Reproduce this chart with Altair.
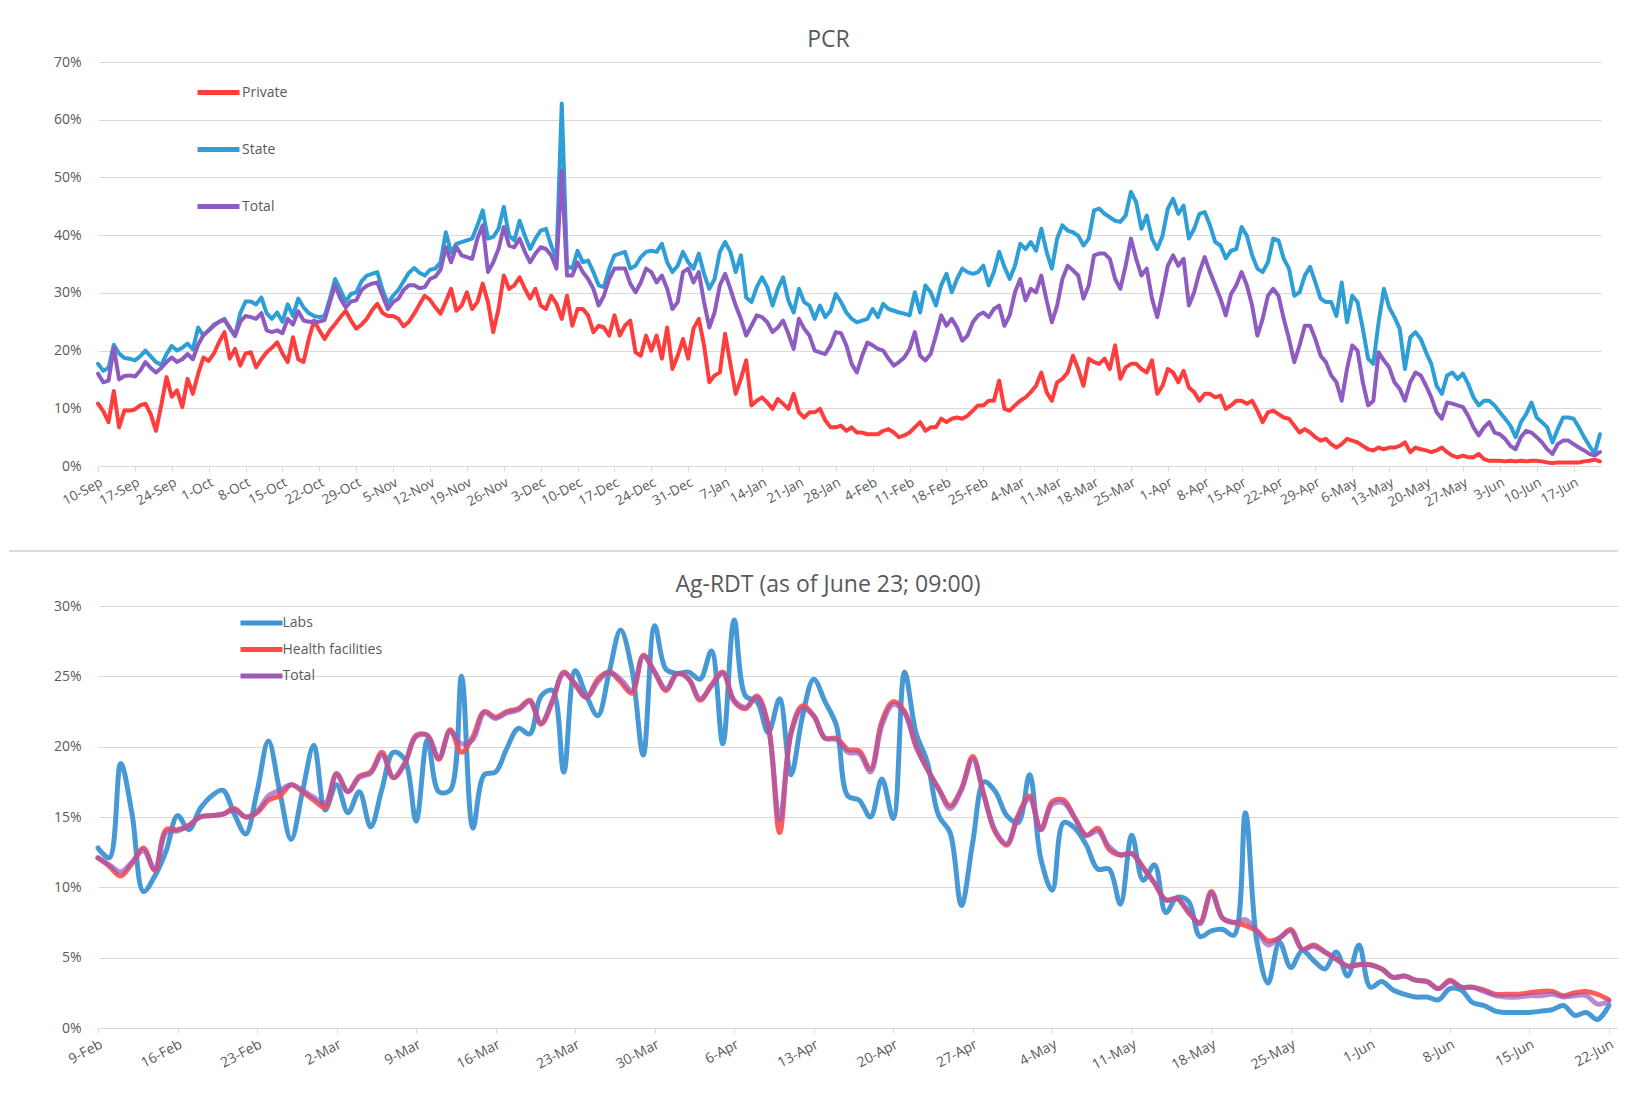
import altair as alt
import pandas as pd

# ---------------- PCR (daily, from 10-Sep) ----------------
pcr_private = [
    10.8, 9.5, 7.6, 13, 6.7, 9.6, 9.6, 9.8, 10.5, 10.8,
    9, 6.1, 10.5, 15.4, 12, 13.1, 10.2, 15.1, 12.5, 16,
    18.8, 18.2, 19.5, 21.5, 23.2, 18.6, 20.3, 17.4, 19.5, 19.7,
    17.1, 18.5, 19.7, 20.5, 21.4, 19.5, 18, 22.3, 18.5, 18,
    22, 25.2, 23.5, 22, 23.5, 24.6, 25.8, 26.9, 25.2, 23.8,
    24.5, 25.5, 27, 28.1, 26.5, 26, 26, 25.5, 24.2, 25,
    26.4, 28, 29.5, 28.8, 27.5, 26.4, 28.5, 30.7, 26.9, 27.8,
    30.1, 27.2, 28.4, 31.6, 28.4, 23.2, 27.2, 33.0, 30.7, 31.3,
    32.7, 30.7, 29.0, 30.7, 27.8, 27.2, 29.5, 28.1, 25.5, 29.5,
    24.3, 27.2, 27.2, 26.1, 23.2, 24.3, 24.0, 22.6, 26.1, 22.6,
    24.3, 25.2, 19.7, 19.1, 22.6, 20.0, 22.6, 18.6, 24.0, 16.8,
    19.1, 22.0, 18.6, 23.8, 25.5, 20.9, 14.5, 15.7, 16.2, 22.9,
    17.7, 12.5, 15.1, 18.3, 10.5, 11.3, 11.9, 11.0, 9.9, 11.6,
    10.8, 9.9, 12.5, 9.3, 8.4, 9.3, 9.3, 9.9, 7.9, 6.7,
    6.7, 7.0, 6.1, 6.7, 5.8, 5.8, 5.5, 5.5, 5.5, 6.1,
    6.4, 5.8, 5.0, 5.3, 5.8, 6.7, 7.6, 6.1, 6.7, 6.7,
    8.2, 7.6, 8.2, 8.4, 8.2, 8.7, 9.6, 10.5, 10.5, 11.3,
    11.3, 14.8, 9.9, 9.6, 10.5, 11.3, 11.9, 12.8, 13.9, 16.2,
    12.8, 11.3, 14.5, 15.1, 16.2, 19.1, 16.8, 13.9, 18.6, 18.0,
    17.7, 18.6, 16.8, 20.9, 15.1, 17.1, 17.7, 17.7, 16.8, 16.2,
    18.3, 12.5, 13.9, 16.8, 16.2, 14.5, 16.5, 13.6, 12.8, 11.3,
    12.5, 12.5, 11.9, 12.2, 9.9, 10.5, 11.3, 11.3, 10.8, 11.3,
    9.6, 7.6, 9.3, 9.6, 9.0, 8.4, 8.2, 7.0, 5.8, 6.4,
    5.8, 5.0, 4.4, 4.7, 3.8, 3.2, 3.8, 4.7, 4.4, 4.1,
    3.5, 2.9, 2.7, 3.2, 2.9, 3.2, 3.2, 3.5, 4.1, 2.4,
    3.2, 2.9, 2.7, 2.4, 2.7, 3.2, 2.4, 1.8, 1.5, 1.8,
    1.5, 1.5, 2.1, 1.2, 0.9, 0.9, 0.9, 0.8, 0.9, 0.8,
    0.9, 0.8, 0.9, 0.9, 0.8, 0.6, 0.5, 0.6, 0.6, 0.6,
    0.6, 0.6, 0.8, 0.9, 1.1, 0.8,
]

pcr_state = [
    17.7, 16.5, 17, 21, 19.5, 18.7, 18.6, 18.3, 19, 20,
    19, 18, 17.5, 19.4, 20.8, 20, 20.5, 21.2, 20.2, 24,
    22.6, 23.5, 24.5, 25, 25.5, 23.8, 22.6, 26.5, 28.5, 28.5,
    28, 29.2, 26.5, 25.5, 26.6, 25, 28, 26, 29, 27.5,
    26.5, 26, 25.8, 26, 29, 32.4, 30.5, 28.5, 29.8, 30.1,
    32, 33, 33.3, 33.6, 30.5, 28.2, 29.5, 30.5, 32, 33.5,
    34.3, 33.5, 33, 34, 34.2, 35.3, 40.5, 37, 38.5, 38.8,
    39.1, 39.4, 41.7, 44.3, 39.4, 39.7, 41.1, 44.9, 39.9, 39.1,
    42.5, 39.9, 37.6, 39.4, 40.8, 41.1, 38.2, 35.9, 62.8, 34.7,
    34.2, 37.3, 35.3, 35.6, 33.6, 31.3, 31.0, 34.2, 36.5, 36.8,
    37.1, 34.2, 34.7, 36.2, 37.1, 37.3, 37.1, 38.5, 35.3, 33.6,
    34.7, 37.1, 35.3, 34.2, 36.8, 33.3, 30.7, 32.4, 37.1, 38.8,
    37.1, 33.6, 36.5, 29.2, 28.4, 31.0, 32.7, 31.0, 27.8, 30.7,
    32.7, 28.7, 26.6, 30.7, 28.4, 27.8, 25.5, 27.8, 25.8, 26.9,
    29.8, 28.4, 26.6, 25.5, 24.9, 25.2, 25.5, 27.2, 25.8, 28.1,
    27.2, 26.9, 26.6, 26.4, 26.1, 30.1, 26.6, 31.3, 30.1, 27.8,
    31.3, 33.3, 30.1, 32.4, 34.2, 33.6, 33.3, 33.6, 34.7, 31.3,
    33.6, 37.1, 34.5, 32.4, 34.7, 38.5, 37.6, 38.8, 37.3, 41.1,
    37.1, 34.2, 39.4, 41.7, 40.8, 40.5, 39.9, 38.2, 39.4, 44.3,
    44.6, 43.7, 43.1, 42.5, 42.3, 43.4, 47.5, 45.7, 41.1, 43.4,
    39.4, 37.6, 39.9, 44.6, 46.3, 43.7, 45.1, 39.4, 41.1, 43.7,
    44.0, 41.7, 38.8, 38.2, 36.0, 37.3, 37.6, 41.4, 39.9, 36.5,
    34.2, 33.6, 35.3, 39.4, 39.1, 35.9, 34.2, 29.5, 30.1, 33.0,
    34.5, 31.8, 29.0, 28.4, 28.4, 26.0, 31.8, 24.9, 29.5, 28.4,
    23.8, 18.6, 17.7, 24.9, 30.7, 27.5, 25.8, 23.8, 16.8, 22.3,
    23.2, 22.0, 19.7, 17.7, 13.9, 12.5, 15.7, 16.2, 15.1, 16.0,
    14.2, 11.9, 10.5, 11.3, 11.3, 10.5, 9.3, 8.2, 7.0, 5.0,
    7.6, 9.0, 11.0, 8.4, 7.6, 6.7, 4.1, 6.4, 8.4, 8.4,
    8.2, 6.7, 5.0, 3.5, 2.1, 5.5,
]

pcr_total = [
    16, 14.5, 14.8, 20.5, 15, 15.6, 15.7, 15.5, 16.5, 18,
    17, 16.2, 17, 18, 18.8, 18, 18.5, 19.4, 18.5, 21,
    22.7, 23.5, 24.3, 25, 25.3, 24, 22.5, 25, 26, 25.8,
    25.5, 26.5, 23.5, 23.2, 23.5, 23, 25.5, 24.5, 26.8, 25.2,
    25, 25, 25, 25.3, 28.4, 31.3, 29, 27.5, 28.5, 28.7,
    30.5, 31.2, 31.6, 31.8, 29.5, 27.2, 28.4, 29, 30.5, 31.3,
    31.3, 30.8, 31, 32.4, 32.8, 34, 37.9, 35.3, 38, 36.5,
    36.2, 35.9, 39.4, 41.7, 33.6, 35.3, 37.6, 41.4, 38.2, 37.9,
    39.4, 37.1, 35.3, 36.8, 37.9, 37.6, 36.5, 34.2, 51.2, 33.0,
    33.0, 35.3, 33.6, 32.4, 30.7, 27.8, 29.5, 32.4, 34.2, 34.2,
    34.2, 31.6, 30.1, 31.8, 34.2, 33.6, 31.8, 33.0, 30.7, 27.2,
    28.4, 33.6, 34.2, 31.8, 33.6, 28.4, 24.0, 26.6, 31.3, 33.3,
    30.7, 27.8, 25.5, 22.6, 24.3, 26.1, 25.8, 24.9, 23.2, 24.0,
    25.2, 22.9, 20.3, 25.5, 23.8, 22.6, 20.0, 19.7, 19.4, 20.9,
    23.2, 23.0, 20.9, 17.7, 16.2, 19.1, 21.4, 20.9, 20.3, 20.0,
    18.6, 17.4, 18.0, 18.8, 20.3, 23.2, 19.1, 18.3, 19.4, 22.6,
    26.1, 24.3, 25.5, 24.0, 21.7, 22.6, 24.9, 26.1, 26.6, 25.8,
    27.2, 27.8, 24.3, 26.1, 30.1, 32.4, 28.7, 30.7, 30.1, 33.0,
    28.7, 24.9, 27.8, 32.4, 34.7, 33.9, 33.0, 29.0, 31.3, 36.5,
    36.8, 36.8, 35.9, 32.4, 30.7, 34.7, 39.4, 35.9, 33.0, 34.2,
    29.0, 25.8, 30.1, 34.7, 36.5, 34.7, 35.9, 27.8, 30.1, 33.6,
    36.2, 33.6, 31.3, 29.0, 26.1, 29.8, 31.3, 33.6, 31.3, 27.8,
    22.6, 25.5, 29.5, 30.7, 29.5, 25.5, 22.0, 18.0, 20.9, 24.3,
    24.3, 22.0, 19.1, 18.0, 15.7, 14.5, 11.3, 16.8, 20.9, 20.0,
    14.5, 10.5, 11.3, 19.7, 18.3, 17.1, 14.5, 13.4, 11.3, 14.5,
    16.2, 15.7, 13.9, 11.9, 9.3, 8.2, 11.0, 10.8, 10.5, 10.2,
    8.7, 6.7, 5.3, 6.7, 7.6, 5.8, 5.5, 4.7, 3.5, 2.9,
    5.0, 6.1, 5.8, 5.0, 4.1, 2.9, 2.1, 3.8, 4.4, 4.4,
    3.8, 3.2, 2.7, 2.1, 1.8, 2.4,
]

pcr_tick_labels = [
    "10-Sep", "17-Sep", "24-Sep", "1-Oct", "8-Oct", "15-Oct", "22-Oct", "29-Oct",
    "5-Nov", "12-Nov", "19-Nov", "26-Nov", "3-Dec", "10-Dec", "17-Dec", "24-Dec",
    "31-Dec", "7-Jan", "14-Jan", "21-Jan", "28-Jan", "4-Feb", "11-Feb", "18-Feb",
    "25-Feb", "4-Mar", "11-Mar", "18-Mar", "25-Mar", "1-Apr", "8-Apr", "15-Apr",
    "22-Apr", "29-Apr", "6-May", "13-May", "20-May", "27-May", "3-Jun", "10-Jun",
    "17-Jun",
]
pcr_series = ["Private", "State", "Total"]
pcr_colors = ["#FF3D3D", "#2E9FD6", "#8E5BC0"]

# ---------------- Ag-RDT (daily, from 9-Feb) ----------------
ag_labs = [
    12.8, 12.1, 18.8, 15.2, 9.7, 10.8, 12.6, 15.1, 14.1, 15.6,
    16.5, 16.9, 15.2, 13.8, 16.8, 20.4, 16.8, 13.4, 16.8, 20.1,
    15.5, 17.3, 15.3, 16.8, 14.3, 17.0, 19.6, 19.1, 14.7, 20.5,
    16.8, 16.9, 25.0, 14.2, 18.0, 18.2, 19.9, 21.3, 20.9, 23.6,
    24.0, 18.2, 25.4, 23.6, 22.2, 25.3, 28.3, 25.5, 19.4, 28.6,
    25.5, 25.2, 25.3, 24.8, 26.8, 20.2, 29.0, 23.6, 23.2, 21.0,
    23.4, 18.0, 22.1, 24.8, 23.2, 21.5, 16.5, 16.2, 15.0, 17.7,
    14.9, 25.3, 21.0, 18.9, 15.1, 13.9, 8.7, 13.2, 17.5, 16.8,
    15.1, 14.6, 18.0, 12.0, 9.8, 14.6, 14.2, 13.0, 11.3, 11.3,
    8.8, 13.7, 10.5, 11.6, 8.2, 9.3, 9.0, 6.5, 6.9, 7.0,
    6.6, 15.3, 6.2, 3.2, 6.1, 4.3, 5.5, 4.8, 4.2, 5.4,
    3.7, 5.9, 2.9, 3.3, 2.7, 2.4, 2.2, 2.2, 2.0, 2.8,
    2.7, 1.8, 1.6, 1.2, 1.1, 1.1, 1.1, 1.2, 1.3, 1.6,
    0.9, 1.1, 0.6, 1.6,
]

ag_health = [
    12.1, 11.5, 10.8, 11.7, 12.8, 11.2, 14.1, 14.1, 14.4, 15.0,
    15.1, 15.2, 15.6, 15.0, 15.3, 16.2, 16.5, 17.3, 16.8, 16.2,
    15.7, 18.1, 16.8, 17.9, 18.2, 19.6, 17.8, 18.8, 20.8, 20.8,
    19.1, 21.2, 19.6, 20.7, 22.5, 22.1, 22.5, 22.7, 23.3, 21.6,
    23.2, 25.3, 24.4, 23.5, 24.8, 25.3, 24.6, 23.8, 26.5, 25.3,
    24.0, 25.2, 24.8, 23.3, 24.4, 25.3, 23.2, 22.7, 23.6, 21.5,
    13.9, 21.0, 22.9, 22.2, 20.6, 20.6, 19.8, 19.7, 18.4, 21.8,
    23.2, 22.5, 20.1, 18.4, 17.0, 15.8, 17.0, 19.3, 16.5, 13.9,
    13.0, 15.1, 16.5, 14.1, 16.1, 16.2, 14.9, 13.7, 14.2, 12.7,
    12.3, 12.4, 11.4, 10.3, 9.1, 9.2, 8.2, 7.5, 9.7, 7.8,
    7.5, 7.3, 6.9, 6.2, 6.4, 7.0, 5.6, 5.9, 5.4, 4.9,
    4.4, 4.5, 4.5, 4.2, 3.6, 3.7, 3.4, 3.3, 2.8, 3.4,
    2.9, 2.9, 2.7, 2.4, 2.4, 2.4, 2.5, 2.6, 2.6, 2.3,
    2.5, 2.6, 2.4, 2.0,
]

ag_total = [
    12.1, 11.6, 11.1, 11.8, 12.6, 11.3, 13.9, 14.0, 14.4, 15.0,
    15.1, 15.2, 15.5, 15.0, 15.4, 16.5, 16.9, 17.3, 16.9, 16.4,
    16.0, 18.0, 16.8, 17.8, 18.1, 19.4, 17.8, 18.8, 20.7, 20.8,
    19.2, 21.1, 20.2, 20.5, 22.4, 22.0, 22.4, 22.6, 23.2, 21.7,
    23.3, 25.2, 24.5, 23.5, 24.6, 25.3, 24.8, 24.0, 26.4, 25.3,
    24.1, 25.2, 24.8, 23.4, 24.3, 25.2, 23.3, 22.8, 23.5, 21.4,
    14.8, 20.9, 22.7, 22.2, 20.6, 20.5, 19.6, 19.5, 18.2, 21.5,
    23.0, 22.4, 20.0, 18.4, 17.0, 15.6, 16.9, 19.1, 16.5, 14.0,
    13.1, 15.1, 16.3, 14.1, 15.9, 16.0, 14.9, 13.7, 14.0, 12.9,
    12.3, 12.4, 11.4, 10.3, 9.1, 9.2, 8.3, 7.4, 9.6, 7.8,
    7.5, 7.7, 6.9, 5.9, 6.4, 6.9, 5.6, 5.8, 5.4, 4.9,
    4.4, 4.5, 4.5, 4.2, 3.6, 3.7, 3.4, 3.3, 2.8, 3.3,
    2.9, 2.9, 2.6, 2.3, 2.2, 2.2, 2.3, 2.3, 2.4, 2.2,
    2.3, 2.3, 1.7, 1.9,
]

ag_tick_labels = [
    "9-Feb", "16-Feb", "23-Feb", "2-Mar", "9-Mar", "16-Mar", "23-Mar", "30-Mar",
    "6-Apr", "13-Apr", "20-Apr", "27-Apr", "4-May", "11-May", "18-May", "25-May",
    "1-Jun", "8-Jun", "15-Jun", "22-Jun",
]
ag_series = ["Labs", "Health facilities", "Total"]
ag_colors = ["#3D93D3", "#FF4A4A", "#9B59B6"]

# ---------------- helpers ----------------
FONT = "Open Sans"
GRAY = "#595959"
GRID = "#D9D9D9"


def to_long(names, arrays):
    rows = []
    for name, arr in zip(names, arrays):
        for i, v in enumerate(arr):
            rows.append({"day": i, "value": v, "series": name})
    return pd.DataFrame(rows)


def label_expr(labels):
    arr = ",".join("'" + s + "'" for s in labels)
    return "[" + arr + "][round(datum.value / 7)]"


# ---------------- PCR chart ----------------
pcr_df = to_long(pcr_series, [pcr_private, pcr_state, pcr_total])
pcr_w, pcr_h = 1503, 404
ag_w, ag_h = 1520, 422

pcr_x = alt.X(
    "day:Q",
    scale=alt.Scale(domain=[0, 285.2], nice=False, zero=False),
    axis=alt.Axis(
        values=[7 * i for i in range(len(pcr_tick_labels))],
        labelExpr=label_expr(pcr_tick_labels),
        labelAngle=-28, labelAlign="right", labelBaseline="top",
        labelFontSize=13.5, labelColor=GRAY, labelFont=FONT, labelPadding=4,
        grid=False, domain=False, ticks=True, tickColor=GRID, tickSize=5,
        labelOverlap=False,
    ),
    title=None,
)
pcr_y = alt.Y(
    "value:Q",
    scale=alt.Scale(domain=[0, 70], nice=False),
    axis=alt.Axis(
        values=[0, 10, 20, 30, 40, 50, 60, 70],
        labelExpr="datum.value + '%'",
        labelFontSize=14, labelColor=GRAY, labelFont=FONT, labelPadding=17,
        grid=True, gridColor=GRID, gridWidth=1.2, domain=False, ticks=False,
    ),
    title=None,
)
pcr_color = alt.Color(
    "series:N",
    scale=alt.Scale(domain=pcr_series, range=pcr_colors),
    legend=alt.Legend(
        title=None, orient="none", legendX=97, legendY=7, direction="vertical",
        symbolType="stroke", symbolSize=1764, symbolStrokeWidth=5,
        rowPadding=23, labelFontSize=14, labelColor=GRAY, labelFont=FONT,
        labelOffset=0, padding=0, symbolOpacity=1,
    ),
)

# separator between the two panels (drawn below the PCR plot area)
pcr_sep = alt.Chart(pd.DataFrame({"k": [0]})).mark_rule(
    color="#DADADA", strokeWidth=2
).encode(x=alt.value(-89), x2=alt.value(ag_w), y=alt.value(pcr_h + 85))

pcr_layers = [pcr_sep]
for name in ["Private", "State", "Total"]:
    pcr_layers.append(
        alt.Chart(pcr_df)
        .transform_filter(alt.datum.series == name)
        .mark_line(strokeWidth=4, strokeJoin="round", strokeCap="round")
        .encode(x=pcr_x, y=pcr_y, color=pcr_color)
    )

pcr_chart = alt.layer(*pcr_layers).properties(
    width=pcr_w, height=pcr_h,
    title=alt.TitleParams(
        text="PCR", fontSize=23, font=FONT, fontWeight="normal", color=GRAY,
        anchor="middle", dx=-21, offset=3,
    ),
)

# ---------------- Ag-RDT chart ----------------
ag_df = to_long(ag_series, [ag_labs, ag_health, ag_total])

ag_x = alt.X(
    "day:Q",
    scale=alt.Scale(domain=[0, 133.8], nice=False, zero=False),
    axis=alt.Axis(
        values=[7 * i for i in range(len(ag_tick_labels))],
        labelExpr=label_expr(ag_tick_labels),
        labelAngle=-28, labelAlign="right", labelBaseline="top",
        labelFontSize=14, labelColor=GRAY, labelFont=FONT, labelPadding=4,
        grid=False, domain=False, ticks=True, tickColor=GRID, tickSize=5,
        labelOverlap=False,
    ),
    title=None,
)
ag_y = alt.Y(
    "value:Q",
    scale=alt.Scale(domain=[0, 30], nice=False),
    axis=alt.Axis(
        values=[0, 5, 10, 15, 20, 25, 30],
        labelExpr="datum.value + '%'",
        labelFontSize=14, labelColor=GRAY, labelFont=FONT, labelPadding=17,
        grid=True, gridColor=GRID, gridWidth=1.2, domain=False, ticks=False,
    ),
    title=None,
)
ag_color = alt.Color(
    "series:N",
    scale=alt.Scale(domain=ag_series, range=ag_colors),
    legend=alt.Legend(
        title=None, orient="none", legendX=150.5, legendY=4, direction="vertical",
        symbolType="M-2,0H2", symbolSize=441, symbolStrokeWidth=5,
        symbolFillColor="transparent",
        rowPadding=3.5, labelFontSize=14, labelColor=GRAY, labelFont=FONT,
        labelOffset=8, padding=0, symbolOpacity=1,
    ),
)

ag_layers = []
for name, op in [("Labs", 0.95), ("Health facilities", 0.9), ("Total", 0.7)]:
    ag_layers.append(
        alt.Chart(ag_df)
        .transform_filter(alt.datum.series == name)
        .mark_line(strokeWidth=5, interpolate="catmull-rom", opacity=op,
                   strokeJoin="round", strokeCap="round")
        .encode(x=ag_x, y=ag_y, color=ag_color)
    )

ag_chart = alt.layer(*ag_layers).properties(
    width=ag_w, height=ag_h,
    title=alt.TitleParams(
        text="Ag-RDT (as of June 23; 09:00)", fontSize=23, font=FONT,
        fontWeight="normal", color=GRAY, anchor="middle", dx=-30, offset=2,
    ),
)

chart = (
    alt.vconcat(pcr_chart, ag_chart, spacing=140, bounds="flush")
    .resolve_scale(x="independent", y="independent", color="independent")
    .resolve_legend(color="independent")
    .properties(padding={"left": 0, "top": 21, "right": 0, "bottom": 5},
                background="white")
    .configure_view(stroke=None)
)

chart.save("out.html", embed_options={"renderer": "svg", "actions": False})
